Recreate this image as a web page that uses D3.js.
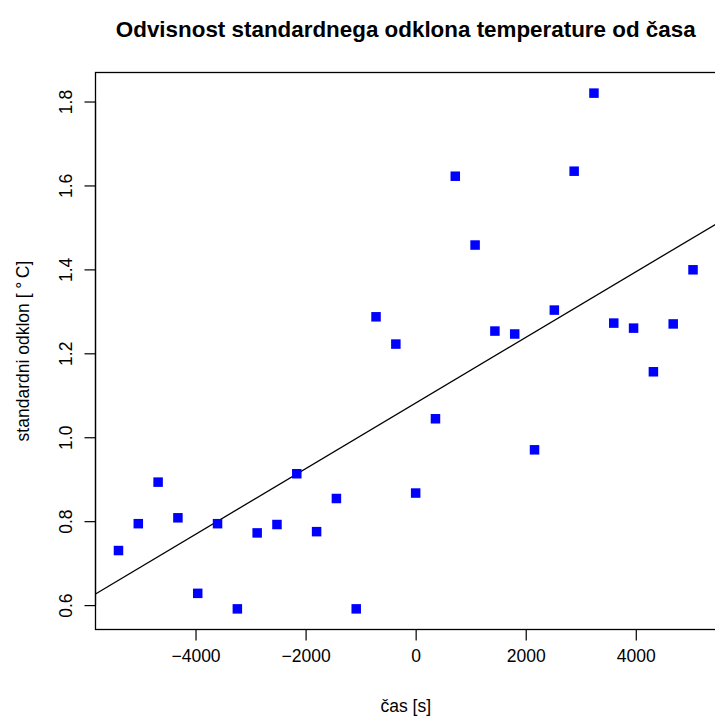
<!DOCTYPE html>
<html>
<head>
<meta charset="utf-8">
<script src="https://cdn.jsdelivr.net/npm/d3@7"></script>
<style>
  body { margin: 0; background: #fff; }
  text { font-family: "Liberation Sans", Arial, sans-serif; fill: #000; }
</style>
</head>
<body>
<svg></svg>
<script>
(function (d3) {
  'use strict';
  const width = 715;
  const height = 716;

  // time in seconds, one measurement every 360 s
  const times = [-5400, -5040, -4680, -4320, -3960, -3600, -3240, -2880, -2520, -2160,
                 -1800, -1440, -1080, -720, -360, 0, 360, 720, 1080, 1440,
                 1800, 2160, 2520, 2880, 3240, 3600, 3960, 4320, 4680, 5040];
  const stdev = [0.730, 0.794, 0.893, 0.808, 0.628, 0.794, 0.591, 0.772, 0.792, 0.913,
                 0.775, 0.854, 0.591, 1.287, 1.222, 0.867, 1.044, 1.622, 1.458, 1.253,
                 1.246, 0.970, 1.303, 1.634, 1.820, 1.272, 1.260, 1.156, 1.270, 1.399];
  const xTicks = [-4000, -2000, 0, 2000, 4000];
  const yTicks = [0.6, 0.8, 1.0, 1.2, 1.4, 1.6, 1.8];

  const svg = d3.select('svg').attr('width', width).attr('height', height);

  const left = 95.5, right = 716, top = 72.5, bottom = 629.5;

  // R style 4% padding
  function pad(ext) {
    const r = ext[1] - ext[0];
    return [ext[0] - 0.04 * r, ext[1] + 0.04 * r];
  }
  const x = d3.scaleLinear().domain(pad(d3.extent(times))).range([left, right]);
  const y = d3.scaleLinear().domain(pad(d3.extent(stdev))).range([bottom, top]);

  // least squares line
  const mx = d3.mean(times), my = d3.mean(stdev);
  let sxy = 0, sxx = 0;
  times.forEach((t, i) => { sxy += (t - mx) * (stdev[i] - my); sxx += (t - mx) * (t - mx); });
  const k = sxy / sxx, n = my - k * mx;

  svg.append('clipPath').attr('id', 'clip')
    .append('rect').attr('x', left).attr('y', top).attr('width', right - left).attr('height', bottom - top);

  const xd = x.domain();
  svg.append('line')
    .attr('clip-path', 'url(#clip)')
    .attr('x1', x(xd[0])).attr('y1', y(n + k * xd[0]))
    .attr('x2', x(xd[1])).attr('y2', y(n + k * xd[1]))
    .attr('stroke', '#000').attr('stroke-width', 1.3);

  const sq = 9.5;
  svg.append('g').selectAll('rect').data(times)
    .enter().append('rect')
      .attr('x', (d) => x(d) - sq / 2)
      .attr('y', (d, i) => y(stdev[i]) - sq / 2)
      .attr('width', sq).attr('height', sq)
      .attr('fill', '#0000ff');

  // box
  svg.append('rect')
    .attr('x', left).attr('y', top).attr('width', right - left).attr('height', bottom - top)
    .attr('fill', 'none').attr('stroke', '#000').attr('stroke-width', 1.3);

  const fs = 17.5;
  const xAxis = svg.append('g').attr('transform', 'translate(0,' + bottom + ')')
    .call(d3.axisBottom(x).tickValues(xTicks).tickSize(11).tickPadding(9)
      .tickFormat((d) => d3.format('d')(d).replace('-', '\u2212')));
  xAxis.select('.domain').attr('d', 'M' + x(xTicks[0]) + ',0H' + x(xTicks[xTicks.length - 1]));
  xAxis.selectAll('line, path').attr('stroke', '#000').attr('stroke-width', 1.2);
  xAxis.selectAll('text').attr('font-size', fs).attr('font-family', null).attr('dy', '0.71em');

  const yAxis = svg.append('g').attr('transform', 'translate(' + left + ',0)')
    .call(d3.axisLeft(y).tickValues(yTicks).tickSize(11).tickFormat(d3.format('.1f')));
  yAxis.select('.domain').attr('d', 'M0,' + y(yTicks[0]) + 'V' + y(yTicks[yTicks.length - 1]));
  yAxis.selectAll('line, path').attr('stroke', '#000').attr('stroke-width', 1.2);
  yAxis.selectAll('text')
    .attr('font-size', fs).attr('font-family', null)
    .attr('x', null).attr('dy', null)
    .attr('text-anchor', 'middle')
    .attr('transform', 'translate(-24,0) rotate(-90)');

  svg.append('text')
    .attr('x', (left + right) / 2).attr('y', 37)
    .attr('text-anchor', 'middle')
    .attr('font-size', 22.4).attr('font-weight', 'bold')
    .text('Odvisnost standardnega odklona temperature od časa');

  svg.append('text')
    .attr('x', (left + right) / 2).attr('y', 712)
    .attr('text-anchor', 'middle')
    .attr('font-size', fs)
    .text('čas [s]');

  svg.append('text')
    .attr('transform', 'translate(29,' + ((top + bottom) / 2) + ') rotate(-90)')
    .attr('text-anchor', 'middle')
    .attr('font-size', fs)
    .text('standardni odklon [ \u00b0\u2009C]');
}(d3));
</script>
</body>
</html>
